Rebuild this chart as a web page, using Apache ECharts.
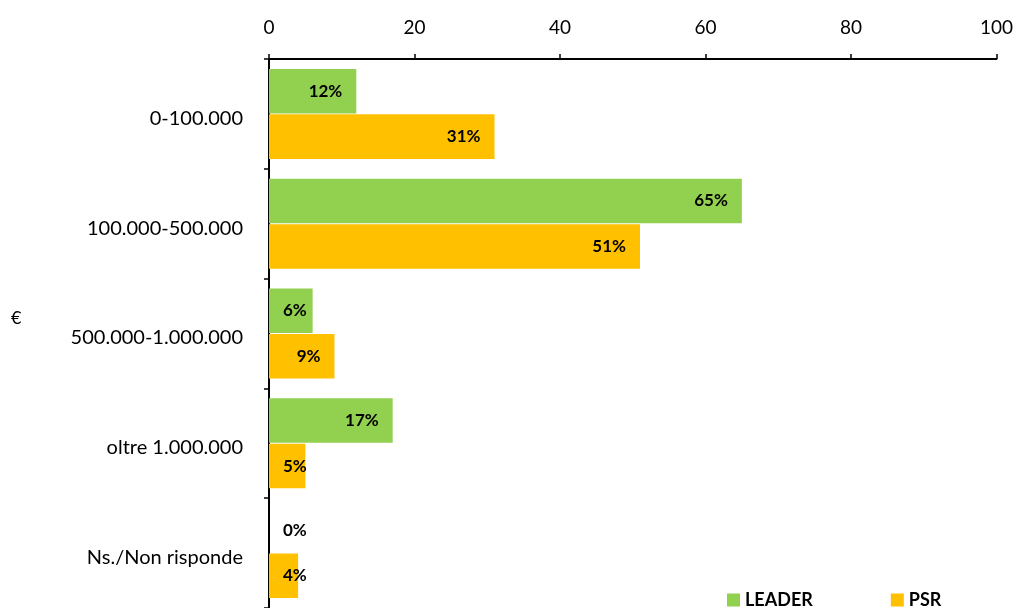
<!DOCTYPE html>
<html>
<head>
<meta charset="utf-8">
<script src="https://cdn.jsdelivr.net/npm/echarts@6/dist/echarts.min.js"></script>
<style>html,body{margin:0;padding:0;background:#fff}#c{width:1016px;height:608px}</style>
</head>
<body>
<div id="c"></div>
<script>
const categories = ['0-100.000', '100.000-500.000', '500.000-1.000.000', 'oltre 1.000.000', 'Ns./Non risponde'];
const leader = [12, 65, 6, 17, 0];
const psr = [31, 51, 9, 5, 4];
const seriesNames = ['LEADER', 'PSR'];
const yName = '€';

const FONT = 'Lato';
function labelFor(v) {
  const small = v < 9;
  return {
    show: true,
    position: small ? 'insideLeft' : 'insideRight',
    distance: 14,
    formatter: v + '%',
    color: '#000',
    fontWeight: 'bold',
    fontSize: 17,
    fontFamily: FONT
  };
}
function build(vals) {
  return vals.map(v => ({ value: v, label: labelFor(v) }));
}

const chart = echarts.init(document.getElementById('c'));
chart.setOption({
  animation: false,
  textStyle: { fontFamily: FONT },
  grid: { left: 269, right: 19, top: 59, bottom: 0, containLabel: false },
  legend: {
    left: 722, top: 586,
    itemWidth: 13, itemHeight: 13, itemGap: 78,
    icon: 'rect',
    textStyle: { fontWeight: 'bold', fontSize: 18, color: '#000', fontFamily: FONT },
    data: seriesNames
  },
  xAxis: {
    type: 'value', position: 'top', min: 0, max: 100, interval: 20,
    axisLine: { show: true, lineStyle: { color: '#000', width: 2 } },
    axisTick: { show: true, length: 5, lineStyle: { color: '#000', width: 1.5 } },
    axisLabel: { color: '#000', fontSize: 19, margin: 22, fontFamily: FONT },
    splitLine: { show: false }
  },
  yAxis: {
    type: 'category', inverse: true, data: categories,
    axisLine: { show: true, lineStyle: { color: '#000', width: 2 } },
    axisTick: { show: true, length: 5, lineStyle: { color: '#000', width: 1.5 } },
    axisLabel: {
      color: '#000', fontSize: 20, margin: 26, fontFamily: FONT,
      formatter: v => '{a|' + v + '}',
      rich: { a: { fontSize: 20, fontFamily: FONT, color: '#000', padding: [9, 0, 0, 0] } }
    }
  },
  graphic: [{
    type: 'text', left: 11, top: 309,
    style: { text: yName, fontSize: 18, fill: '#000', fontFamily: FONT }
  }],
  series: [
    {
      name: seriesNames[0], type: 'bar', data: build(leader),
      itemStyle: { color: '#92D050' },
      barCategoryGap: '18%', barGap: '2%'
    },
    {
      name: seriesNames[1], type: 'bar', data: build(psr),
      itemStyle: { color: '#FFC000' },
      barCategoryGap: '18%', barGap: '2%'
    }
  ]
});
</script>
</body>
</html>
